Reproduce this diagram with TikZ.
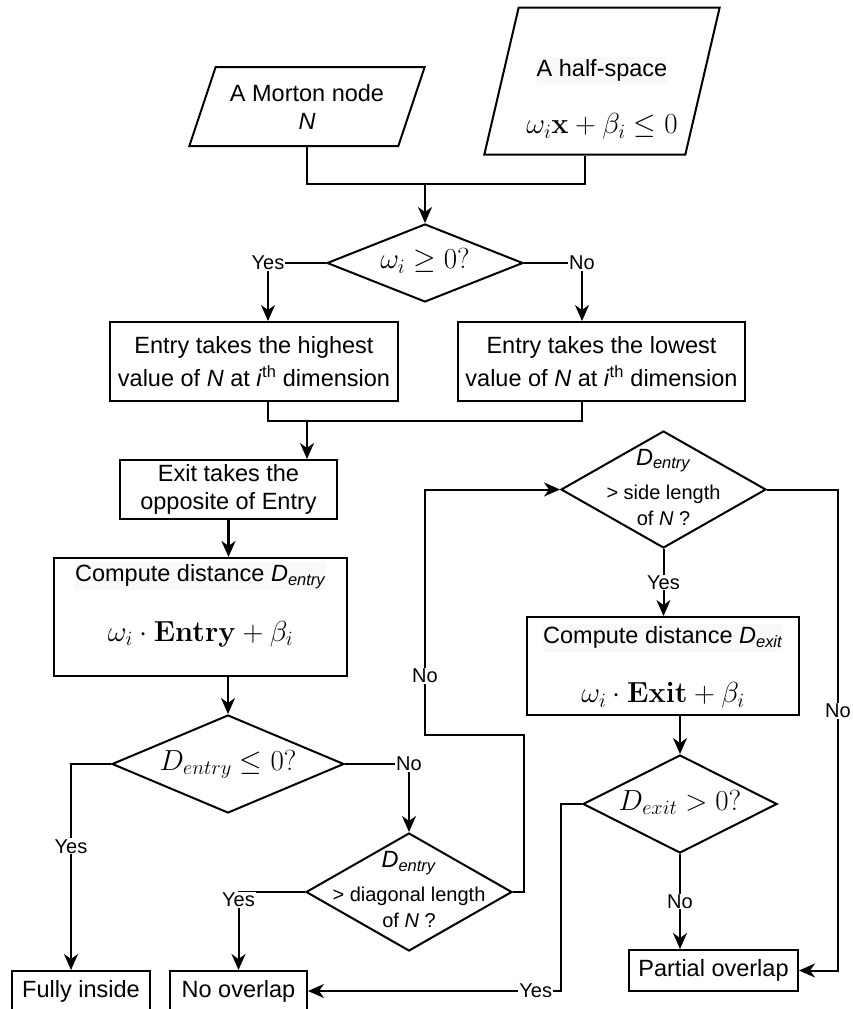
\RequirePackage{fix-cm}
\documentclass[tikz,border=0pt]{standalone}
\usepackage[no-math]{fontspec}
\setmainfont{Liberation Sans}
\usetikzlibrary{shapes.geometric,arrows.meta}
\definecolor{hlbg}{HTML}{F8F9FA}
\setlength{\fboxsep}{0pt}
\newcommand{\boxfont}{\fontsize{23.5}{28}\selectfont}
\newcommand{\lblfont}{\fontsize{20}{24}\selectfont}
\newcommand{\mth}[1]{{\fontsize{29}{34}\selectfont$#1$}}
\newcommand{\dtext}[1]{\makebox[0pt]{\smash{\raisebox{-6pt}{\begin{tabular}{@{}c@{}}#1\end{tabular}}}}}
\newcommand{\Dsub}[1]{\textit{D}\textsubscript{\textit{#1}}}
\begin{document}
\begin{tikzpicture}[x=1pt,y=-1pt,line width=2pt,
    arr/.style={-{Stealth[length=16pt,width=14pt,inset=5pt]}},
    lbl/.style={fill=white,inner sep=1pt,font=\lblfont}]
  \useasboundingbox (0,0) rectangle (852,1009);

  % inputs
  \begin{scope}[every node/.style={draw, trapezium, trapezium stretches=true, align=center, inner sep=0pt, font=\boxfont}]
    \node[trapezium left angle=63.7, trapezium right angle=116.3, minimum width=236pt, minimum height=79pt] (morton) at (307,106.5) {A Morton node\\ \textit{N}};
    \node[trapezium left angle=75.1, trapezium right angle=104.9, minimum width=236pt, minimum height=147pt] (hs) at (602,81) {\rule{0pt}{54pt}\colorbox{hlbg}{\strut A half-space}\\[28pt] \mth{\omega_i\mathbf{x}+\beta_i\leq 0}};
  \end{scope}

  % steps
  \begin{scope}[every node/.style={draw, rectangle, align=center, inner sep=2pt, font=\boxfont}]
    \node[minimum width=288pt, minimum height=79pt] (hi) at (254,361.5) {Entry takes the highest\\[5pt] value of \textit{N} at \textit{i}\textsuperscript{th} dimension};
    \node[minimum width=287pt, minimum height=79pt] (lo) at (601.5,361.5) {Entry takes the lowest\\[5pt] value of \textit{N} at \textit{i}\textsuperscript{th} dimension};
    \node[minimum width=217pt, minimum height=59pt] (exitb) at (228.5,489.5) {Exit takes the\\ opposite of Entry};
    \node[minimum width=293pt, minimum height=118pt] (cen) at (200.5,617) {\colorbox{hlbg}{\strut Compute distance \Dsub{entry}}\\[30pt] \mth{\omega_i\cdot\mathbf{Entry}+\beta_i}\rule[-31pt]{0pt}{1pt}};
    \node[minimum width=272pt, minimum height=98pt] (cex) at (663,666) {\colorbox{hlbg}{\strut Compute distance \Dsub{exit}}\\[30pt] \mth{\omega_i\cdot\mathbf{Exit}+\beta_i}};
  \end{scope}

  % tests
  \begin{scope}[every node/.style={draw, diamond, inner sep=0pt, font=\boxfont}]
    \node[minimum width=196pt, minimum height=78pt] (dsign) at (425,263) {\dtext{\mth{\omega_i \geq 0?}}};
    \node[minimum width=232pt, minimum height=98pt] (dent) at (228,764) {\dtext{\mth{D_{entry} \leq 0?}}};
    \node[minimum width=206pt, minimum height=118pt] (ddiag) at (409,892) {\dtext{\Dsub{entry}\\[6pt] \lblfont > diagonal length\\[-2pt] \lblfont of \textit{N} ?}};
    \node[minimum width=205pt, minimum height=117pt] (dside) at (663.5,489.5) {\dtext{\Dsub{entry}\\[6pt] \lblfont > side length\\[-2pt] \lblfont of \textit{N} ?}};
    \node[minimum width=194pt, minimum height=98pt] (dex) at (680,804) {\dtext{\mth{D_{exit} > 0?}}};
  \end{scope}

  % outcomes
  \begin{scope}[every node/.style={draw, rectangle, inner sep=2pt, font=\boxfont}]
    \node[minimum width=138pt, minimum height=40pt] (full) at (81,991) {Fully inside};
    \node[minimum width=137pt, minimum height=40pt] (noov) at (238.5,991) {No overlap};
    \node[minimum width=169pt, minimum height=41pt] (part) at (713.5,970.5) {Partial overlap};
  \end{scope}

  \coordinate (in) at (425,184);
  \coordinate (mid) at (307,421);
  \coordinate (loop) at (425,735);

  \draw (morton.center |- morton.bottom side) |- (in) -| (hs.bottom side);
  \draw[arr] (in) -- (dsign.north);
  \draw[arr] (dsign.west) -| node[lbl] (y1) {Yes} ([xshift=14pt]hi.north);
  \draw[arr] (dsign.east) -| node[lbl] (n1) {No} ([xshift=-19.5pt]lo.north);
  \draw ([xshift=14pt]hi.south) |- (mid) -| ([xshift=-19.5pt]lo.south);
  \draw[arr] (mid) -- (mid |- exitb.north);
  \draw[arr, line width=3.5pt] (exitb.south) -- (exitb.south |- cen.north);
  \draw[arr] (cen.south -| dent.north) -- (dent.north);
  \draw[arr] (dent.west) -| node[lbl, pos=0.7] (y2) {Yes} ([xshift=-10pt]full.north);
  \draw[arr] (dent.east) -| node[lbl] (n2) {No} (ddiag.north);
  \draw[arr] (ddiag.west) -| node[lbl, yshift=-8pt] (y3) {Yes} (noov.north);
  \draw[arr] (ddiag.east) -- ++(11,0) |- (loop) |- node[lbl, pos=0.12] (n3) {No} (dside.west);
  \draw[arr] (dside.south) -- node[lbl] (y4) {Yes} (dside.south |- cex.north);
  \draw[arr] (dside.east) -| node[lbl, pos=0.73] (n4) {No} ([xshift=39pt]part.east) -- (part.east);
  \draw[arr] (cex.south -| dex.north) -- (dex.north);
  \draw[arr] (dex.west) -- ++(-21,0) |- node[lbl, pos=0.55] (y5) {Yes} (noov.east);
  \draw[arr] (dex.south) -- node[lbl] (n5) {No} (dex.south |- part.north);
\end{tikzpicture}
\end{document}
